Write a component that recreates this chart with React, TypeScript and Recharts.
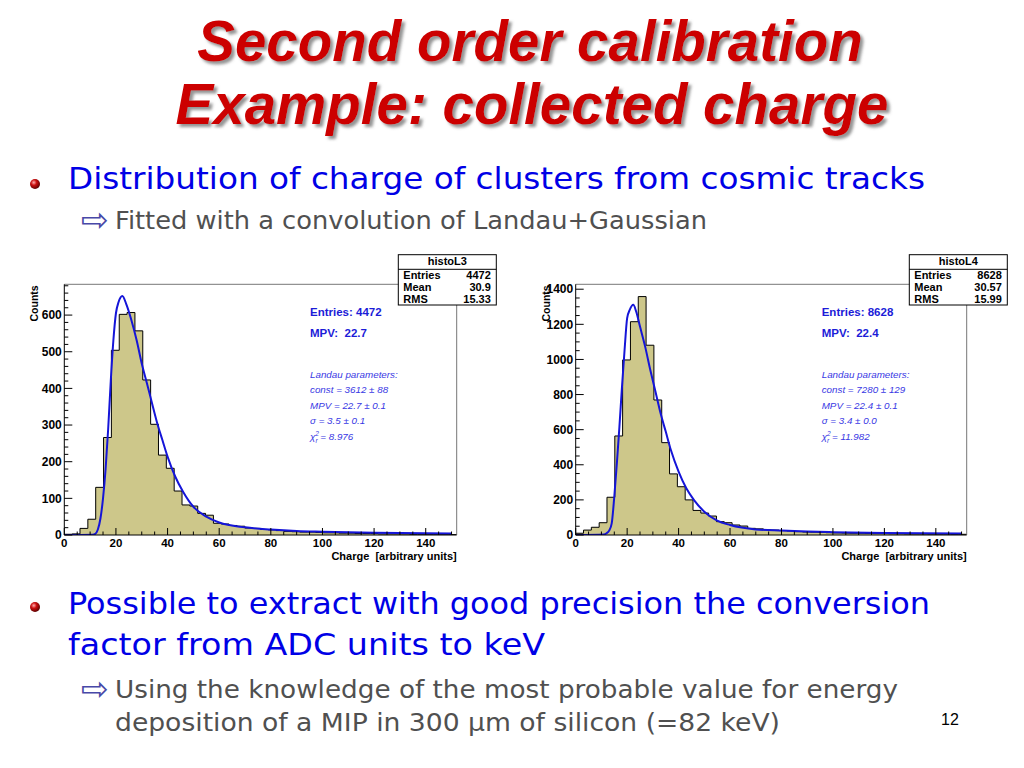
import React from 'react';
import { ComposedChart, Area, Line, XAxis, YAxis, ReferenceLine } from 'recharts';

// histogram binning (50 bins over the charge axis)
const BIN_WIDTH = 3.04;
const X_MAX = 152;

// bin contents
const countsL3 = [2, 3, 18, 43, 130, 266, 504, 602, 607, 557, 423, 302, 218, 182, 120, 82, 79, 59, 54, 32, 30, 26, 24, 19, 18, 15, 14, 12, 10, 9, 8, 8, 7, 6, 6, 5, 5, 4, 4, 4, 3, 3, 3, 3, 2, 2, 2, 2, 2, 1];
const countsL4 = [10, 28, 44, 70, 215, 564, 997, 1215, 1358, 1081, 769, 526, 348, 275, 200, 140, 125, 108, 76, 70, 57, 51, 38, 35, 29, 28, 25, 23, 19, 17, 16, 15, 13, 12, 11, 10, 10, 9, 8, 8, 7, 7, 6, 6, 6, 5, 5, 5, 4, 4];

// Landau+Gauss fit curves
const fitXL3 = [0, 11, 12, 13, 14, 15, 16, 17, 18, 19, 20, 21, 22.5, 24, 26, 28, 30, 32, 34, 36, 38, 40, 43, 46, 50, 55, 60, 70, 80, 90, 100, 120, 150];
const fitYL3 = [0, 1, 3, 15, 45, 100, 180, 290, 420, 530, 605, 635, 652, 630, 586, 532, 468, 414, 359, 305, 259, 214, 159, 118, 77, 50, 34, 21, 15, 11, 9, 6, 4];
const fitXL4 = [0, 11, 12, 13, 14, 15, 16, 17, 18, 19, 20, 21, 22.4, 23.5, 25, 27, 29, 31, 33, 35, 37, 40, 43, 46, 50, 55, 60, 70, 80, 90, 100, 120, 150];
const fitYL4 = [0, 3, 10, 25, 66, 218, 408, 617, 845, 1054, 1235, 1282, 1311, 1273, 1187, 1073, 940, 817, 693, 589, 484, 361, 266, 199, 133, 82, 57, 32, 25, 20, 16, 11, 8];

// stat boxes
const statsL3 = [['Entries', '4472'], ['Mean', '30.9'], ['RMS', '15.33']];
const statsL4 = [['Entries', '8628'], ['Mean', '30.57'], ['RMS', '15.99']];

// fit results
const fitL3 = { entries: '4472', mpv: '22.7', constant: '3612 \u00b1 88', mpvErr: '22.7 \u00b1 0.1', sigma: '3.5 \u00b1 0.1', chi2: '8.976' };
const fitL4 = { entries: '8628', mpv: '22.4', constant: '7280 \u00b1 129', mpvErr: '22.4 \u00b1 0.1', sigma: '3.4 \u00b1 0.0', chi2: '11.982' };

const xTickLabels = [0, 20, 40, 60, 80, 100, 120, 140];

const range = (start: number, stop: number, step: number) => {
  const out: number[] = [];
  for (let v = start; v <= stop + 1e-9; v += step) out.push(v);
  return out;
};

const histData = (counts: number[]) => {
  const pts = counts.map((c, i) => ({ x: i * BIN_WIDTH, y: c }));
  pts.push({ x: X_MAX, y: counts[counts.length - 1] });
  return pts;
};

const fitData = (xs: number[], ys: number[]) => xs.map((x, i) => ({ x, y: ys[i] }));

const ROOT_FONT = 'Liberation Sans, Arial, sans-serif';
const SLIDE_FONT = 'DejaVu Sans, Noto Sans, sans-serif';

const makeYTick = (step: number) => (props: any) => {
  const { x, y, payload } = props;
  const major = payload.value % step === 0;
  return (
    <g>
      <line x1={x} x2={x + (major ? 8 : 4)} y1={y} y2={y} stroke="#000" />
      {major && (
        <text x={x - 2.5} y={y + 4.2} textAnchor="end" fontFamily={ROOT_FONT} fontWeight="bold" fontSize={12} fill="#000">
          {payload.value}
        </text>
      )}
    </g>
  );
};

const XTick = (props: any) => {
  const { x, y, payload } = props;
  const major = payload.value % 20 === 0;
  return (
    <g>
      <line x1={x} x2={x} y1={y} y2={y - (major ? 7 : 3.5)} stroke="#000" />
      {major && xTickLabels.includes(payload.value) && (
        <text x={x} y={y + 11.5} textAnchor="middle" fontFamily={ROOT_FONT} fontWeight="bold" fontSize={11.5} fill="#000">
          {payload.value}
        </text>
      )}
    </g>
  );
};

type HistoProps = {
  left: number;
  width: number;
  margin: { top: number; right: number; bottom: number; left: number };
  counts: number[];
  fitX: number[];
  fitY: number[];
  yMax: number;
  yStep: number;
  yMinor: number;
};

function Histo({ left, width, margin, counts, fitX, fitY, yMax, yStep, yMinor }: HistoProps) {
  const yTickFn = makeYTick(yStep);
  return (
    <div style={{ position: 'absolute', left, top: 240 }}>
      <ComposedChart width={width} height={335} margin={margin}>
        <XAxis
          type="number"
          dataKey="x"
          domain={[0, X_MAX]}
          ticks={range(0, 150, 5)}
          interval={0}
          tickSize={0}
          tickMargin={0}
          tickLine={false}
          tick={XTick}
          height={30}
          axisLine={{ stroke: '#000' }}
          allowDataOverflow
          label={{
            content: (p: any) => {
              const vb = p.viewBox;
              return (
                <text x={vb.x + vb.width} y={vb.y + 24.5} textAnchor="end" fontFamily={ROOT_FONT} fontWeight="bold" fontSize={11} fill="#000" style={{ whiteSpace: 'pre' }}>
                  {'Charge  [arbitrary units]'}
                </text>
              );
            },
          }}
        />
        <YAxis
          type="number"
          domain={[0, yMax]}
          ticks={range(0, yMax, yMinor)}
          interval={0}
          tickSize={0}
          tickMargin={0}
          tickLine={false}
          tick={yTickFn}
          width={40}
          axisLine={{ stroke: '#000' }}
          allowDataOverflow
          label={{
            content: (p: any) => {
              const vb = p.viewBox;
              const bx = vb.x + vb.width - 26;
              return (
                <text transform={`translate(${bx}, ${vb.y + 1}) rotate(-90)`} textAnchor="end" fontFamily={ROOT_FONT} fontWeight="bold" fontSize={10.5} fill="#000">
                  Counts
                </text>
              );
            },
          }}
        />
        <ReferenceLine y={yMax} stroke="#777" strokeWidth={1} />
        <ReferenceLine x={X_MAX} stroke="#777" strokeWidth={1} />
        <Area
          data={histData(counts)}
          dataKey="y"
          type="stepAfter"
          stroke="#000"
          strokeWidth={1}
          fill="#cdc78a"
          fillOpacity={1}
          isAnimationActive={false}
          dot={false}
          activeDot={false}
        />
        <Line
          data={fitData(fitX, fitY)}
          dataKey="y"
          type="monotone"
          stroke="#1515d8"
          strokeWidth={2}
          dot={false}
          activeDot={false}
          isAnimationActive={false}
        />
      </ComposedChart>
    </div>
  );
}

function StatBox({ x, title, rows }: { x: number; title: string; rows: string[][] }) {
  const w = 98;
  return (
    <g fontFamily={ROOT_FONT} fontWeight="bold" fontSize={11} fill="#000">
      <rect x={x} y={254.7} width={w} height={50.3} fill="#fff" stroke="#000" strokeWidth={1} />
      <line x1={x} x2={x + w} y1={269.3} y2={269.3} stroke="#000" />
      <text x={x + w / 2} y={265.3} textAnchor="middle">{title}</text>
      {rows.map((r, i) => (
        <g key={r[0]}>
          <text x={x + 5} y={278.7 + i * 12.2}>{r[0]}</text>
          <text x={x + w - 5.5} y={278.7 + i * 12.2} textAnchor="end">{r[1]}</text>
        </g>
      ))}
    </g>
  );
}

function FitText({ x, fit }: { x: number; fit: typeof fitL3 }) {
  const it = { fontFamily: ROOT_FONT, fontStyle: 'italic' as const, fontSize: 9.8, fill: '#3838e4' };
  return (
    <g>
      <text x={x} y={315.5} fontFamily={ROOT_FONT} fontWeight="bold" fontSize={11.5} fill="#1c1cd8">Entries: {fit.entries}</text>
      <text x={x} y={337.3} fontFamily={ROOT_FONT} fontWeight="bold" fontSize={11.5} fill="#1c1cd8" style={{ whiteSpace: 'pre' }}>{'MPV:  ' + fit.mpv}</text>
      <text x={x} y={377.7} {...it}>Landau parameters:</text>
      <text x={x} y={392.7} {...it}>const = {fit.constant}</text>
      <text x={x} y={408.7} {...it}>MPV = {fit.mpvErr}</text>
      <text x={x} y={424.3} {...it}>{'\u03c3 = ' + fit.sigma}</text>
      <text x={x} y={440} {...it}>
        <tspan>{'\u03c7'}</tspan>
        <tspan dy={-4.5} fontSize={6.5}>2</tspan>
        <tspan dx={-3.6} dy={7.5} fontSize={6.5}>r</tspan>
        <tspan dy={-3}>{' = ' + fit.chi2}</tspan>
      </text>
    </g>
  );
}

const Arrow = ({ x, y }: { x: number; y: number }) => (
  <text x={x} y={y} fontFamily="DejaVu Sans" fontSize={33} fill="#4848a8">{'\u21e8'}</text>
);

export default function App() {
  return (
    <div style={{ position: 'absolute', left: 0, top: 0, width: 1024, height: 768, background: '#fff', overflow: 'hidden' }}>
      <Histo
        left={0}
        width={530}
        margin={{ top: 44.3, right: 73.3, bottom: 10, left: 24.3 }}
        counts={countsL3}
        fitX={fitXL3}
        fitY={fitYL3}
        yMax={684}
        yStep={100}
        yMinor={20}
      />
      <Histo
        left={512}
        width={512}
        margin={{ top: 44.3, right: 57.3, bottom: 10, left: 23.7 }}
        counts={countsL4}
        fitX={fitXL4}
        fitY={fitYL4}
        yMax={1428}
        yStep={200}
        yMinor={50}
      />
      <svg width={1024} height={768} style={{ position: 'absolute', left: 0, top: 0, pointerEvents: 'none' }}>
        <defs>
          <radialGradient id="ball" cx="38%" cy="35%" r="70%">
            <stop offset="0%" stopColor="#ffb0b0" />
            <stop offset="40%" stopColor="#cc1010" />
            <stop offset="100%" stopColor="#500000" />
          </radialGradient>
          <filter id="shadow" x="-5%" y="-20%" width="110%" height="150%">
            <feDropShadow dx={3} dy={3} stdDeviation={1.4} floodColor="#707070" floodOpacity={0.75} />
          </filter>
        </defs>

        {/* title */}
        <g fontFamily={ROOT_FONT} fontWeight="bold" fontStyle="italic" fontSize={56.5} textAnchor="middle" fill="#cc0000" filter="url(#shadow)">
          <text x={530} y={61}>Second order calibration</text>
          <text x={532} y={124}>Example: collected charge</text>
        </g>

        {/* top bullets */}
        <circle cx={35} cy={184} r={5} fill="url(#ball)" />
        <text x={68} y={189} fontFamily={SLIDE_FONT} fontSize={30} fill="#0000e6" textLength={857} lengthAdjust="spacingAndGlyphs">
          Distribution of charge of clusters from cosmic tracks
        </text>
        <Arrow x={81} y={231} />
        <text x={115} y={229} fontFamily={SLIDE_FONT} fontSize={24} fill="#505050" textLength={592} lengthAdjust="spacingAndGlyphs">
          Fitted with a convolution of Landau+Gaussian
        </text>

        <StatBox x={398.3} title="histoL3" rows={statsL3} />
        <StatBox x={909.3} title="histoL4" rows={statsL4} />
        <FitText x={310} fit={fitL3} />
        <FitText x={821.7} fit={fitL4} />

        {/* bottom bullets */}
        <circle cx={35} cy={607} r={5} fill="url(#ball)" />
        <text x={68} y={614} fontFamily={SLIDE_FONT} fontSize={30} fill="#0000e6" textLength={862} lengthAdjust="spacingAndGlyphs">
          Possible to extract with good precision the conversion
        </text>
        <text x={68} y={655} fontFamily={SLIDE_FONT} fontSize={30} fill="#0000e6" textLength={477} lengthAdjust="spacingAndGlyphs">
          factor from ADC units to keV
        </text>
        <Arrow x={81} y={700} />
        <text x={115} y={698} fontFamily={SLIDE_FONT} fontSize={24} fill="#505050" textLength={783} lengthAdjust="spacingAndGlyphs">
          Using the knowledge of the most probable value for energy
        </text>
        <text x={115} y={731} fontFamily={SLIDE_FONT} fontSize={24} fill="#505050" textLength={665} lengthAdjust="spacingAndGlyphs">
          deposition of a MIP in 300 {'\u03bc'}m of silicon (=82 keV)
        </text>
        <text x={941} y={725} fontFamily={ROOT_FONT} fontSize={16} fill="#000">12</text>
      </svg>
    </div>
  );
}
